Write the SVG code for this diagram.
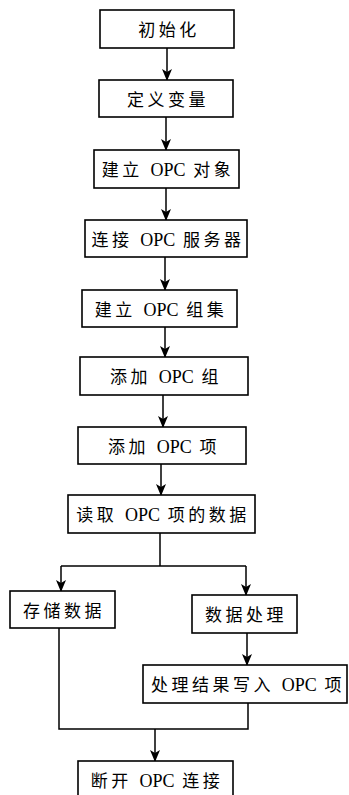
<svg xmlns="http://www.w3.org/2000/svg" width="349" height="795" viewBox="0 0 349 795">
<defs>
<style>
rect.box{fill:#fff;stroke:#000;stroke-width:1.6}
text{font-family:"Liberation Serif","Noto Sans CJK SC",serif;font-size:17px;fill:#000;text-anchor:middle;letter-spacing:3.5px}
tspan.en{letter-spacing:0;font-size:18px}
.conn path{fill:none;stroke:#000;stroke-width:1.5}
</style>
<marker id="ah" markerUnits="userSpaceOnUse" markerWidth="10" markerHeight="12" refX="5" refY="11" orient="0" viewBox="0 0 10 12">
<path d="M0,0 L5,3 L10,0 L5,12 z" fill="#000"/>
</marker>
</defs>
<rect width="349" height="795" fill="#fff"/>
<g class="conn">
<path d="M167,48 V80" marker-end="url(#ah)"/>
<path d="M166,117 V150" marker-end="url(#ah)"/>
<path d="M166,188 V220" marker-end="url(#ah)"/>
<path d="M165,257 V290" marker-end="url(#ah)"/>
<path d="M165,327 V357" marker-end="url(#ah)"/>
<path d="M163,395 V427" marker-end="url(#ah)"/>
<path d="M161,464 V495" marker-end="url(#ah)"/>
<path d="M160,533 V566"/>
<path d="M61,566 H246"/>
<path d="M61,566 V591" marker-end="url(#ah)"/>
<path d="M246,566 V595" marker-end="url(#ah)"/>
<path d="M247,633 V665" marker-end="url(#ah)"/>
<path d="M59,628 V729 H248 V703"/>
<path d="M155,729 V761" marker-end="url(#ah)"/>
</g>
<g id="n1"><rect class="box" x="100" y="10" width="134" height="38"/><text x="169" y="36">初始化</text></g>
<g id="n2"><rect class="box" x="99" y="80" width="134" height="37"/><text x="168" y="106">定义变量</text></g>
<g id="n3"><rect class="box" x="94" y="150" width="145" height="38"/><text x="168" y="176">建立 <tspan class="en">OPC</tspan> 对象</text></g>
<g id="n4"><rect class="box" x="85" y="220" width="162" height="37"/><text x="168" y="246">连接 <tspan class="en">OPC</tspan> 服务器</text></g>
<g id="n5"><rect class="box" x="82" y="290" width="155" height="37"/><text x="161" y="316">建立 <tspan class="en">OPC</tspan> 组集</text></g>
<g id="n6"><rect class="box" x="80" y="357" width="168" height="38"/><text x="166" y="383">添加 <tspan class="en">OPC</tspan> 组</text></g>
<g id="n7"><rect class="box" x="78" y="427" width="168" height="37"/><text x="164" y="453">添加 <tspan class="en">OPC</tspan> 项</text></g>
<g id="n8"><rect class="box" x="68" y="495" width="187" height="38"/><text x="163" y="521">读取 <tspan class="en">OPC</tspan> 项的数据</text></g>
<g id="n9"><rect class="box" x="10" y="591" width="105" height="37"/><text x="64" y="617">存储数据</text></g>
<g id="n10"><rect class="box" x="192" y="595" width="105" height="38"/><text x="246" y="621">数据处理</text></g>
<g id="n11"><rect class="box" x="143" y="665" width="204" height="38"/><text x="248" y="691">处理结果写入 <tspan class="en">OPC</tspan> 项</text></g>
<g id="n12"><rect class="box" x="78" y="761" width="155" height="40"/><text x="157" y="787">断开 <tspan class="en">OPC</tspan> 连接</text></g>
</svg>
